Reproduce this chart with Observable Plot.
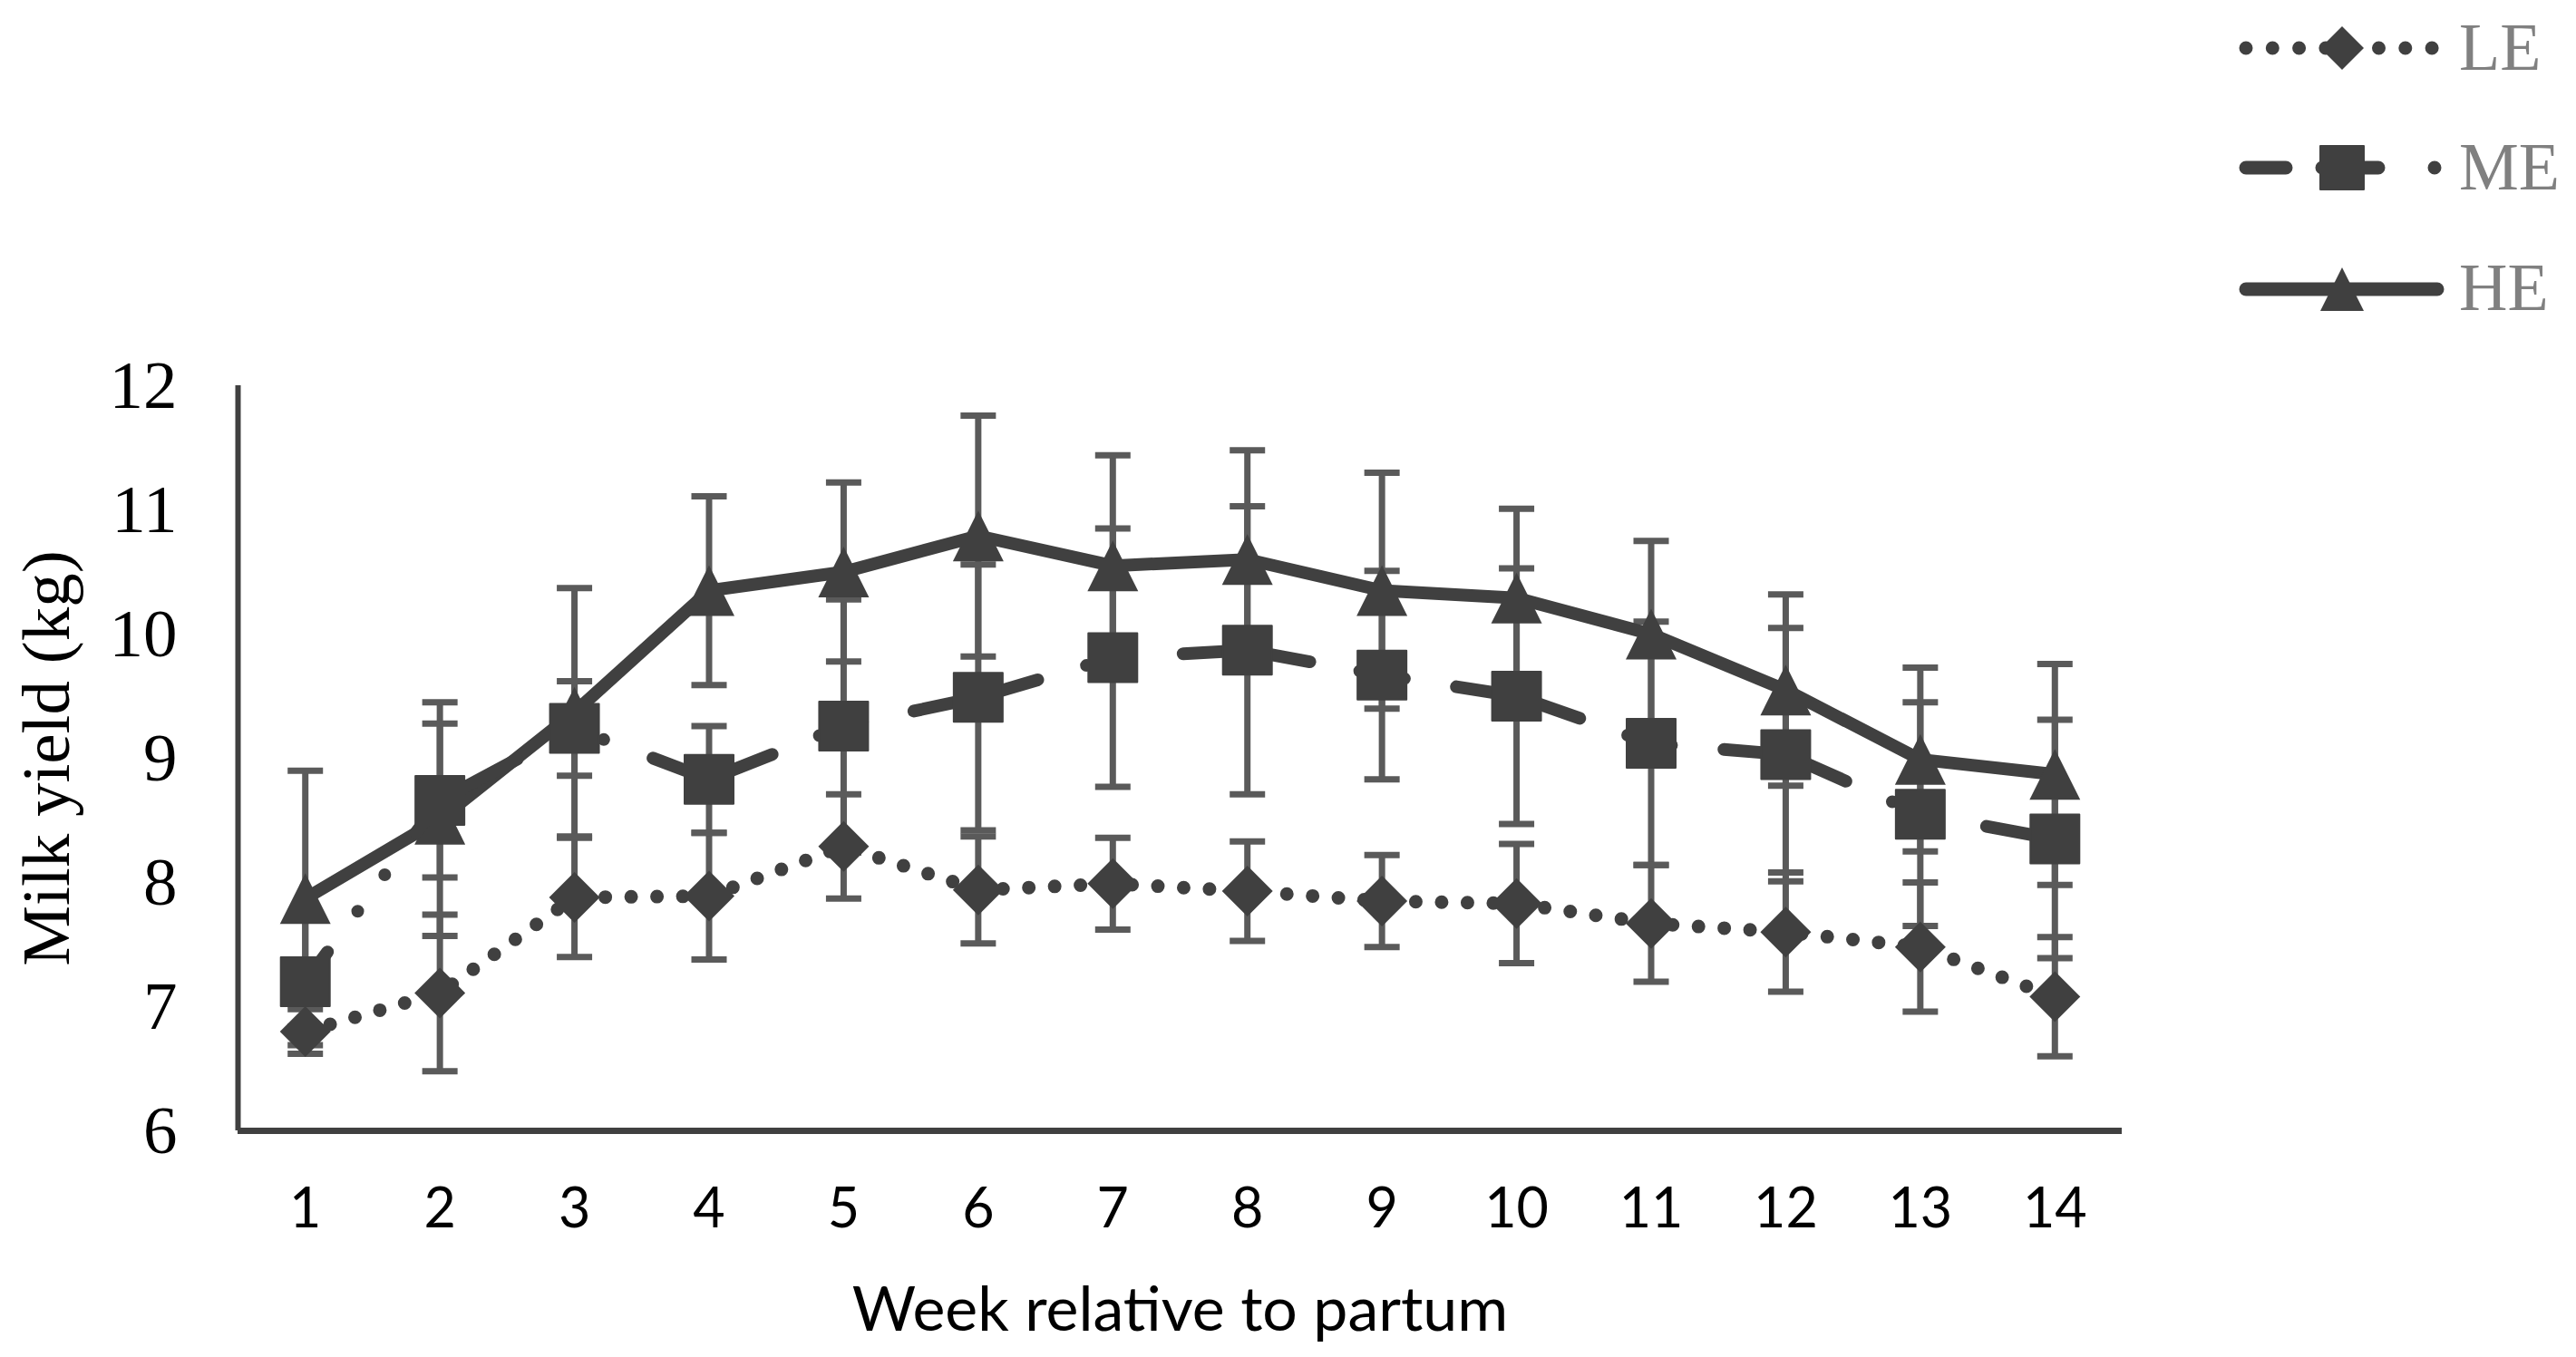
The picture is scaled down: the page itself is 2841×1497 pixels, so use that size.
<!DOCTYPE html>
<html>
<head>
<meta charset="utf-8">
<script src="https://cdn.jsdelivr.net/npm/d3@7"></script>
<script src="https://cdn.jsdelivr.net/npm/@observablehq/plot@0.6"></script>
<style>
html, body { margin: 0; padding: 0; background: #ffffff; }
#legend svg, #chart svg { display: block; }
</style>
</head>
<body>
<div id="legend"></div>
<div id="chart"></div>
<script>
// ---- data ----
const weeks = [1, 2, 3, 4, 5, 6, 7, 8, 9, 10, 11, 12, 13, 14];
const groups = ["LE", "ME", "HE"];
const leMean = [6.80, 7.11, 7.88, 7.89, 8.29, 7.94, 7.99, 7.93, 7.85, 7.83, 7.67, 7.60, 7.48, 7.08];
const leSE   = [0.18, 0.63, 0.48, 0.51, 0.42, 0.43, 0.37, 0.40, 0.37, 0.48, 0.47, 0.48, 0.52, 0.48];
const meMean = [7.20, 8.66, 9.24, 8.83, 9.26, 9.49, 9.81, 9.87, 9.67, 9.50, 9.12, 9.03, 8.55, 8.35];
const meSE   = [0.51, 0.62, 0.38, 0.43, 1.02, 1.07, 1.04, 1.16, 0.84, 1.03, 0.98, 1.02, 0.90, 0.96];
const heMean = [7.87, 8.51, 9.37, 10.35, 10.50, 10.79, 10.55, 10.60, 10.35, 10.29, 10.00, 9.55, 8.99, 8.87];
const heSE   = [1.03, 0.94, 1.00, 0.76, 0.72, 0.97, 0.89, 0.88, 0.95, 0.72, 0.75, 0.77, 0.74, 0.89];
const yTicks = [6, 7, 8, 9, 10, 11, 12];
const xTitle = "Week relative to partum";
const yTitle = "Milk yield (kg)";

// ---- table built from the arrays ----
const meanOf = {LE: leMean, ME: meMean, HE: heMean};
const seOf = {LE: leSE, ME: meSE, HE: heSE};
const rows = groups.flatMap(g => weeks.map((w, i) => ({week: w, group: g, mean: meanOf[g][i], se: seOf[g][i]})));
const byGroup = g => rows.filter(d => d.group === g);

// ---- symbols ----
const rad = size => Math.sqrt(size / Math.PI);
const diamondSym = {draw(c, size) { const r = rad(size); c.moveTo(0, -r); c.lineTo(r, 0); c.lineTo(0, r); c.lineTo(-r, 0); c.closePath(); }};
const squareSym = {draw(c, size) { const r = rad(size); c.moveTo(-r, -r); c.lineTo(r, -r); c.lineTo(r, r); c.lineTo(-r, r); c.closePath(); }};
const triangleSym = {draw(c, size) { const r = rad(size); c.moveTo(0, -r); c.lineTo(r, r); c.lineTo(-r, r); c.closePath(); }};
const capSym = {draw(c, size) { c.moveTo(-19.5, 0); c.lineTo(19.5, 0); }};

const ink = "#404040";
const barInk = "#5a5a5a";
const style = {
  LE: {sym: diamondSym, width: 15, dash: "0 28.5", offset: 0},
  ME: {sym: squareSym, width: 14, dash: "141 56 0 50 0 58", offset: 100},
  HE: {sym: triangleSym, width: 14, dash: null, offset: 0}
};

const seriesMarks = ["HE", "ME", "LE"].flatMap(g => [
  Plot.line(byGroup(g), {x: "week", y: "mean", stroke: ink, strokeWidth: style[g].width,
    strokeLinecap: "round", strokeLinejoin: "round",
    strokeDasharray: style[g].dash, strokeDashoffset: style[g].offset}),
  Plot.dot(byGroup(g), {x: "week", y: "mean", symbol: style[g].sym, r: g === "ME" ? 27 : 28,
    fill: ink, stroke: g === "ME" ? ink : "none", strokeWidth: 2, strokeLinejoin: "round"})
]);

const chart = Plot.plot({
  width: 2841,
  height: 1117,
  marginTop: 45,
  marginBottom: 250,
  marginLeft: 262,
  marginRight: 501,
  style: {background: "#ffffff", color: "#000000", overflow: "visible"},
  x: {type: "linear", domain: [0.5, 14.5]},
  y: {type: "linear", domain: [6, 12]},
  marks: [
    // error bars
    Plot.ruleX(rows, {x: "week", y1: d => d.mean - d.se, y2: d => d.mean + d.se, stroke: barInk, strokeWidth: 7}),
    Plot.dot(rows, {x: "week", y: d => d.mean + d.se, symbol: capSym, r: 1, fill: "none", stroke: barInk, strokeWidth: 7}),
    Plot.dot(rows, {x: "week", y: d => d.mean - d.se, symbol: capSym, r: 1, fill: "none", stroke: barInk, strokeWidth: 7}),
    // axis lines
    Plot.ruleX([0.5], {y1: 6, y2: 12, stroke: ink, strokeWidth: 6}),
    Plot.ruleY([6], {stroke: ink, strokeWidth: 7}),
    // axes
    Plot.axisY({ticks: yTicks, tickFormat: d => String(d), tickSize: 0, tickPadding: 67, fontSize: 75,
      fontFamily: "Liberation Serif, 'Times New Roman', serif",
      label: yTitle, labelAnchor: "center", labelOffset: 240, labelArrow: "none", fill: "#000000"}),
    Plot.axisX({ticks: weeks, tickFormat: d => String(d), tickSize: 0, tickPadding: 63, fontSize: 61,
      fontFamily: "Lato, 'Liberation Sans', sans-serif", label: null, fill: "#000000"}),
    Plot.axisX({ticks: [], tickSize: 0, fontSize: 68, fontFamily: "Lato, 'Liberation Sans', sans-serif",
      label: xTitle, labelAnchor: "center", labelOffset: 220, labelArrow: "none", fill: "#000000"}),
    ...seriesMarks
  ]
});
document.getElementById("chart").appendChild(chart);

// ---- legend (above the plot svg) ----
const leg = d3.create("svg").attr("width", 2841).attr("height", 380);
const legRows = [
  {g: "LE", y: 53, base: 77, dash: "0 29.3", x0: 2477, x1: 2683},
  {g: "ME", y: 185, base: 209, dash: "44 40 62 62 0 100", x0: 2477, x1: 2688},
  {g: "HE", y: 319, base: 342, dash: null, x0: 2477, x1: 2688}
];
for (const r of legRows) {
  leg.append("line")
    .attr("x1", r.x0).attr("x2", r.x1).attr("y1", r.y).attr("y2", r.y)
    .attr("stroke", ink).attr("stroke-width", 15).attr("stroke-linecap", "round")
    .attr("stroke-dasharray", r.dash);
  const p = d3.path();
  style[r.g].sym.draw(p, Math.PI * 24 * 24);
  leg.append("path").attr("d", p.toString())
    .attr("transform", `translate(2583,${r.y})`)
    .attr("fill", ink).attr("stroke", ink).attr("stroke-width", r.g === "ME" ? 2 : 0).attr("stroke-linejoin", "round");
  leg.append("text").attr("x", 2712).attr("y", r.base)
    .attr("font-family", "Liberation Serif, 'Times New Roman', serif").attr("font-size", 74)
    .attr("fill", "#808080").text(r.g);
}
document.getElementById("legend").appendChild(leg.node());
</script>
</body>
</html>
